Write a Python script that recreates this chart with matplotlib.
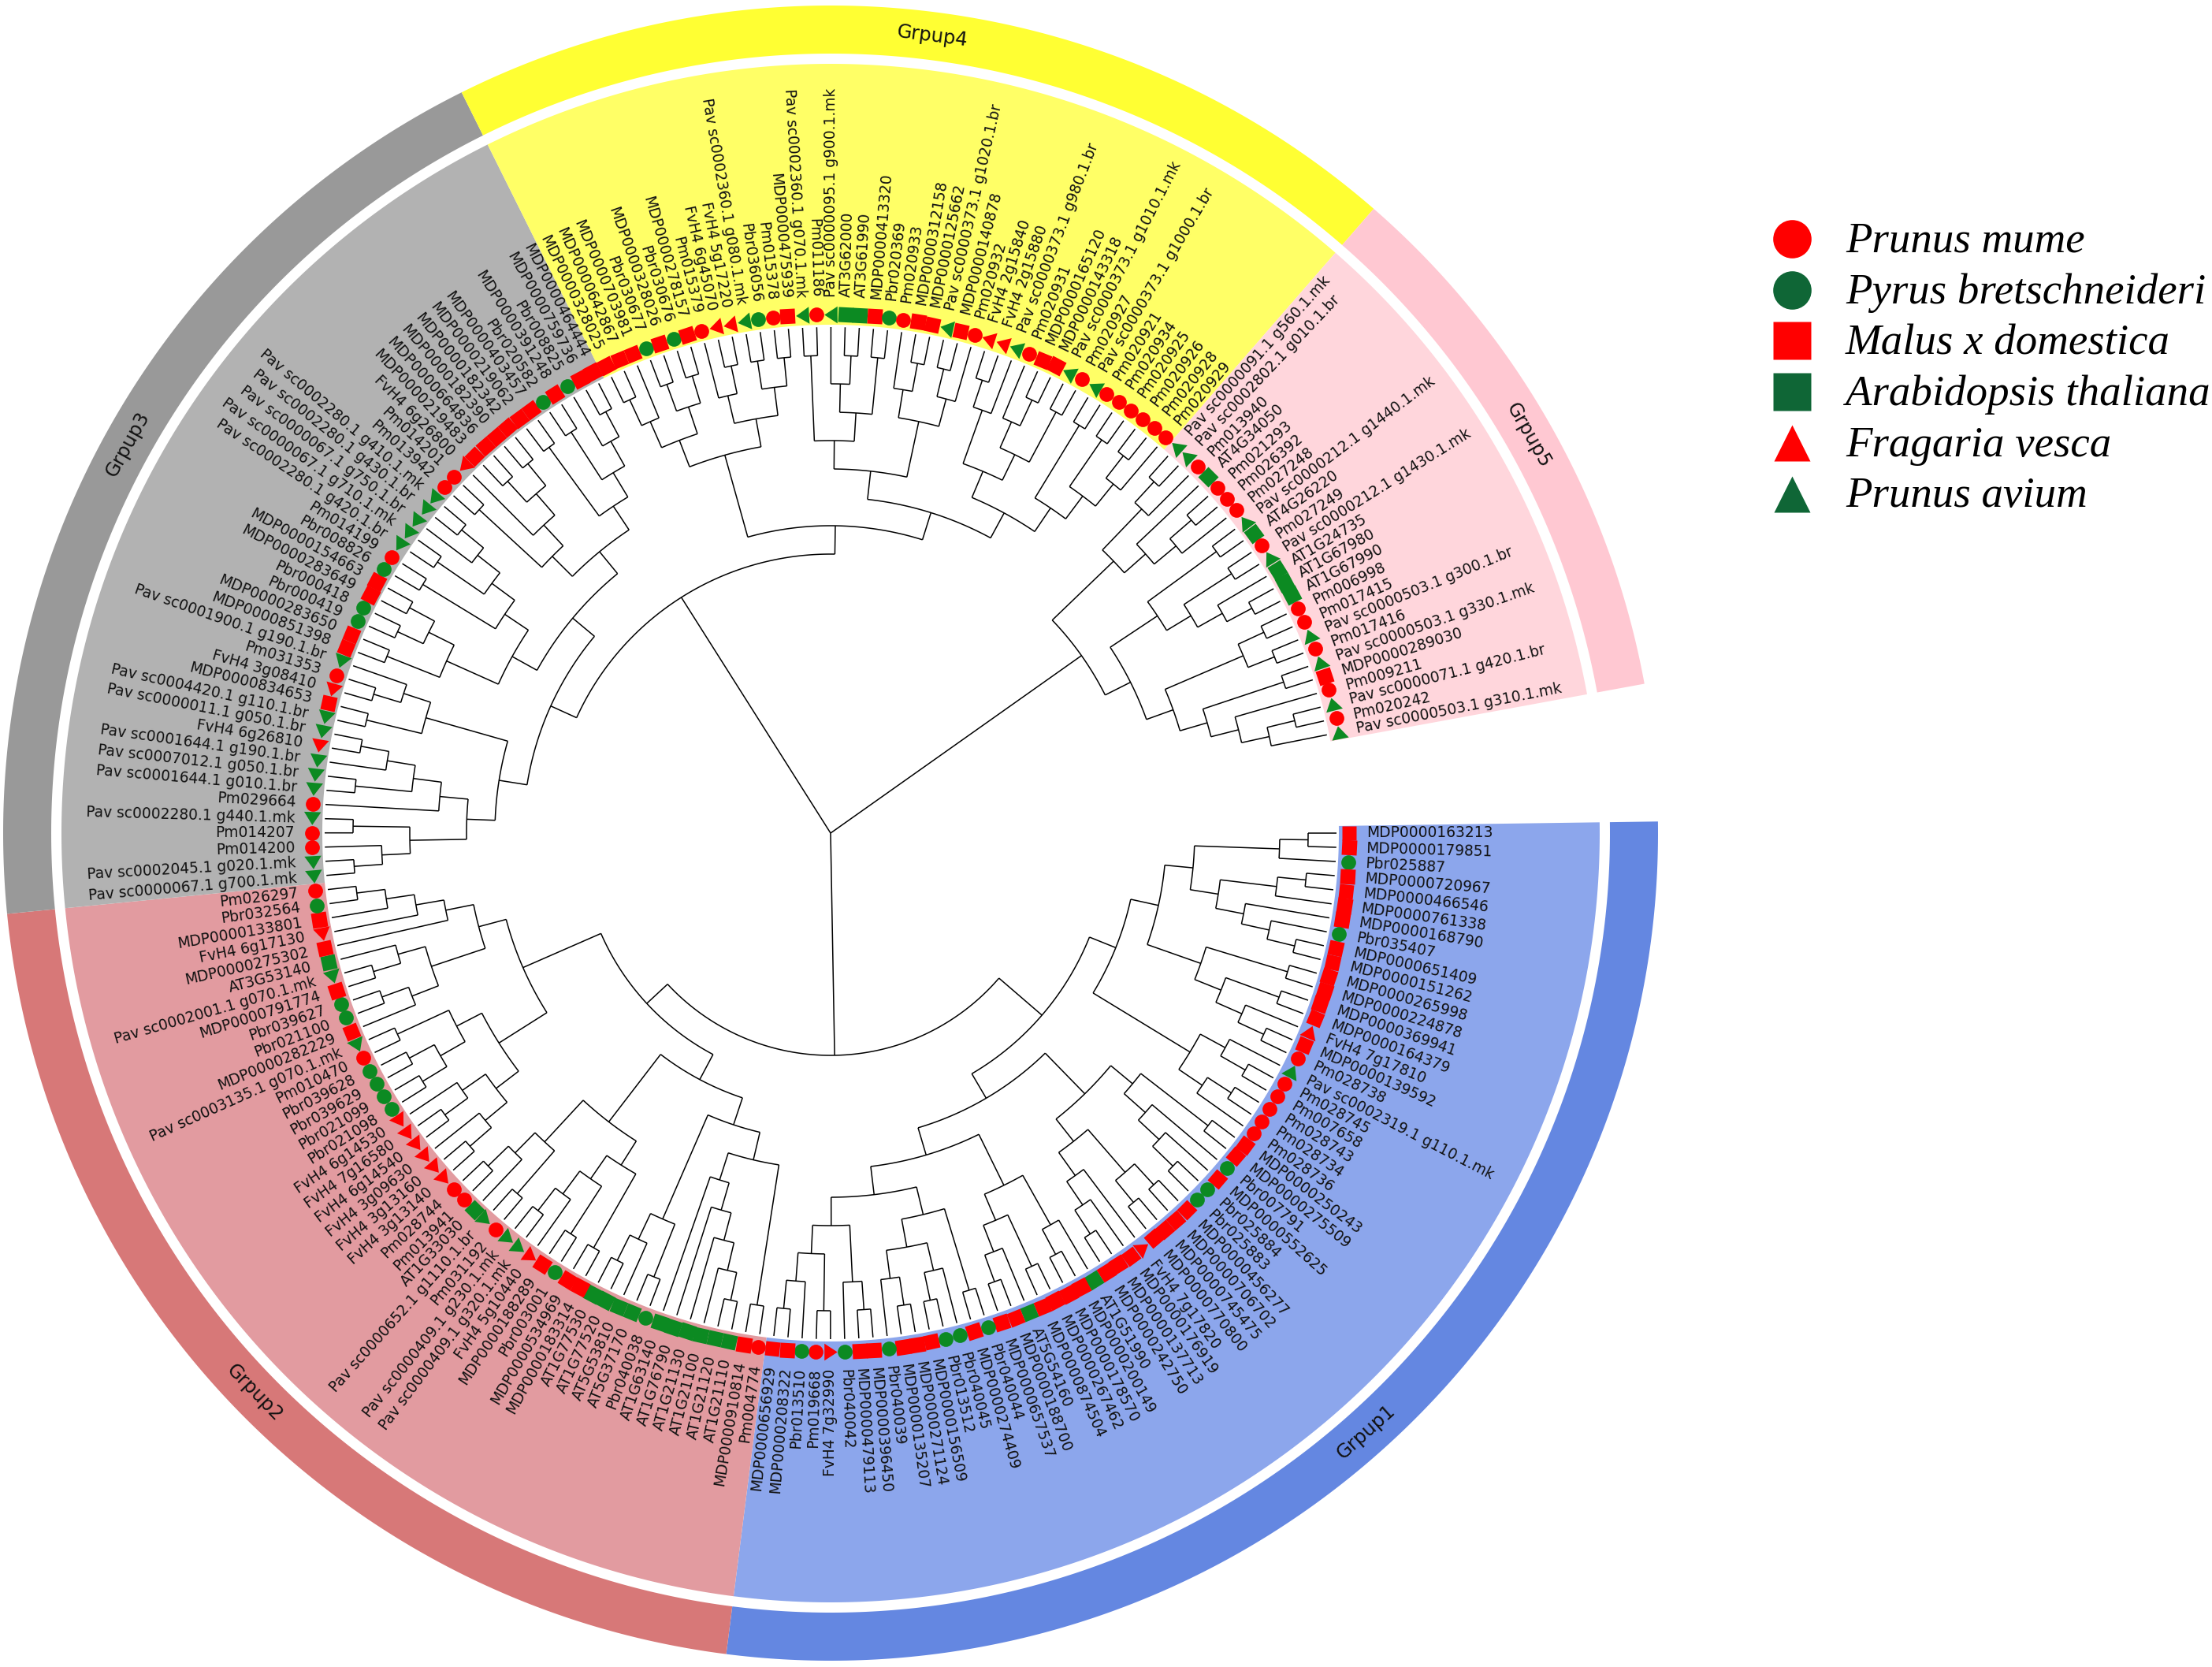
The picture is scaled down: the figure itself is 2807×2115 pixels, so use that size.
import numpy as np
import matplotlib
matplotlib.use("Agg")
import matplotlib.pyplot as plt
from matplotlib.markers import MarkerStyle
from matplotlib.transforms import Affine2D
from matplotlib.collections import LineCollection
from matplotlib.path import Path

# ---------------- data ----------------
group_names = ["Grpup1", "Grpup2", "Grpup3", "Grpup4", "Grpup5"]

group1_leaves = [
    "MDP0000163213", "MDP0000179851", "Pbr025887", "MDP0000720967", "MDP0000466546",
    "MDP0000761338", "MDP0000168790", "Pbr035407", "MDP0000651409", "MDP0000151262",
    "MDP0000265998", "MDP0000224878", "MDP0000369941", "MDP0000164379", "FvH4 7g17810",
    "MDP0000139592", "Pm028738", "Pav sc0002319.1 g110.1.mk", "Pm028745", "Pm007658",
    "Pm028743", "Pm028734", "Pm028736", "MDP0000250243", "MDP0000275509",
    "Pbr007791", "MDP0000552625", "Pbr025884", "Pbr025883", "MDP0000456277",
    "MDP0000706702", "MDP0000745475", "MDP0000770800", "FvH4 7g17820", "MDP0000176919",
    "MDP0000137713", "MDP0000242750", "AT1G51990", "MDP0000200149", "MDP0000178570",
    "MDP0000267462", "MDP0000874504", "AT5G54160", "MDP0000188700", "MDP0000657537",
    "Pbr040044", "MDP0000274409", "Pbr040045", "Pbr013512", "MDP0000156509",
    "MDP0000271124", "MDP0000135207", "Pbr040039", "MDP0000396450", "MDP0000479113",
    "Pbr040042", "FvH4 7g32990", "Pm019668", "Pbr013510", "MDP0000208322",
    "MDP0000656929"]
group2_leaves = [
    "Pm004774", "MDP0000910814", "AT1G21110", "AT1G21120", "AT1G21100",
    "AT1G21130", "AT1G76790", "AT1G63140", "Pbr040038", "AT5G37170",
    "AT5G53810", "AT1G77520", "AT1G77530", "MDP0000183314", "MDP0000534969",
    "Pbr003001", "MDP0000188289", "FvH4 5g10440", "Pav sc0000409.1 g320.1.mk", "Pav sc0000409.1 g230.1.mk",
    "Pm031192", "Pav sc0000652.1 g1110.1.br", "AT1G33030", "Pm013941", "Pm028744",
    "FvH4 3g13140", "FvH4 3g13160", "FvH4 3g09630", "FvH4 6g14540", "FvH4 7g16580",
    "FvH4 6g14530", "Pbr021098", "Pbr021099", "Pbr039629", "Pbr039628",
    "Pm010470", "Pav sc0003135.1 g070.1.mk", "MDP0000282229", "Pbr021100", "Pbr039627",
    "MDP0000791774", "Pav sc0002001.1 g070.1.mk", "AT3G53140", "MDP0000275302", "FvH4 6g17130",
    "MDP0000133801", "Pbr032564", "Pm026297"]
group3_leaves = [
    "Pav sc0000067.1 g700.1.mk", "Pav sc0002045.1 g020.1.mk", "Pm014200", "Pm014207", "Pav sc0002280.1 g440.1.mk",
    "Pm029664", "Pav sc0001644.1 g010.1.br", "Pav sc0007012.1 g050.1.br", "Pav sc0001644.1 g190.1.br", "FvH4 6g26810",
    "Pav sc0000011.1 g050.1.br", "Pav sc0004420.1 g110.1.br", "MDP0000834653", "FvH4 3g08410", "Pm031353",
    "Pav sc0001900.1 g190.1.br", "MDP0000851398", "MDP0000283650", "Pbr000419", "Pbr000418",
    "MDP0000283649", "MDP0000154663", "Pbr008826", "Pm014199", "Pav sc0002280.1 g420.1.br",
    "Pav sc0000067.1 g710.1.mk", "Pav sc0000067.1 g750.1.br", "Pav sc0002280.1 g430.1.br", "Pav sc0002280.1 g410.1.mk", "Pm013942",
    "Pm014201", "FvH4 6g26800", "MDP0000219483", "MDP0000664836", "MDP0000182390",
    "MDP0000182342", "MDP0000219062", "MDP0000403457", "Pbr020582", "MDP0000391248",
    "Pbr008825", "MDP0000759736", "MDP0000464444"]
group4_leaves = [
    "MDP0000328025", "MDP0000642867", "MDP0000703981", "Pbr030677", "MDP0000328026",
    "Pbr030676", "MDP0000278157", "Pm015379", "FvH4 6g45070", "FvH4 5g17220",
    "Pav sc0002360.1 g080.1.mk", "Pbr036056", "Pm015378", "MDP0000475939", "Pav sc0002360.1 g070.1.mk",
    "Pm011186", "Pav sc0000095.1 g900.1.mk", "AT3G62000", "AT3G61990", "MDP0000413320",
    "Pbr020369", "Pm020933", "MDP0000312158", "MDP0000125662", "Pav sc0000373.1 g1020.1.br",
    "MDP0000140878", "Pm020932", "FvH4 2g15840", "FvH4 2g15880", "Pav sc0000373.1 g980.1.br",
    "Pm020931", "MDP0000165120", "MDP0000143318", "Pav sc0000373.1 g1010.1.mk", "Pm020927",
    "Pav sc0000373.1 g1000.1.br", "Pm020921", "Pm020934", "Pm020925", "Pm020926",
    "Pm020928", "Pm020929"]
group5_leaves = [
    "Pav sc0000091.1 g560.1.mk", "Pav sc0002802.1 g010.1.br", "Pm013940", "AT4G34050", "Pm021293",
    "Pm026392", "Pm027248", "Pav sc0000212.1 g1440.1.mk", "AT4G26220", "Pm027249",
    "Pav sc0000212.1 g1430.1.mk", "AT1G24735", "AT1G67980", "AT1G67990", "Pm006998",
    "Pm017415", "Pav sc0000503.1 g300.1.br", "Pm017416", "Pav sc0000503.1 g330.1.mk", "MDP0000289030",
    "Pm009211", "Pav sc0000071.1 g420.1.br", "Pm020242", "Pav sc0000503.1 g310.1.mk"]
group_leaves = [group1_leaves, group2_leaves, group3_leaves, group4_leaves, group5_leaves]

species_names = ["Prunus mume", "Pyrus bretschneideri", "Malus x domestica",
                 "Arabidopsis thaliana", "Fragaria vesca", "Prunus avium"]
species_prefix = ["Pm", "Pbr", "MDP", "AT", "FvH4", "Pav"]

# tree topology per group (local leaf indices, in leaf order)
g1_parts = dict(
    A1="(((0,1),2),(((3,4),5),(6,(7,(8,9)))))",
    A2="((10,11),((12,13),(14,(15,16))))",
    A3="((17,(18,19)),((20,21),22))",
    A4="((23,24),(25,(26,(27,28))))",
    A5="(((29,30),(31,32)),(33,(34,(35,36))))",
    A6="((37,(38,39)),((40,41),(42,(43,44))))",
    A7="((45,46),((47,(48,49)),((50,51),52)))",
    A8="(((53,54),55),((56,57),(58,(59,60))))")
g1_topo = "((({A1},{A2}),{A3}),(({A4},{A5}),({A6},({A7},{A8}))))".format(**g1_parts)
g2_parts = dict(
    B1="((0,1),(((((2,3),4),5),6),7))",
    B2="((8,9),(10,(11,12)))",
    B3="((13,14),((15,16),(17,(18,19))))",
    B4="((20,21),(22,(23,24)))",
    B5="(((25,26),27),((28,29),30))",
    B6="(((31,32),(33,34)),(35,36))",
    B7="((37,(38,39)),((40,41),42))",
    B8="(43,(44,(45,(46,47))))")
g2_topo = "((({B1},{B2}),({B3},{B4})),(({B5},{B6}),({B7},{B8})))".format(**g2_parts)
g3_parts = dict(
    C1="(((0,1),2),(3,4))",
    C2="(5,((6,7),(8,(9,10))))",
    C3="((11,12),((13,14),15))",
    C4="((16,17),((18,19),(20,21)))",
    C5="((22,23),((24,25),(26,(27,28))))",
    C6="((29,30),(31,((32,33),(34,35))))",
    C7="((36,37),((38,39),(40,(41,42))))")
g3_topo = "((({C1},{C2}),{C3}),(({C4},{C5}),({C6},{C7})))".format(**g3_parts)
g4_parts = dict(
    D1="(((0,1),2),((3,4),(5,6)))",
    D2="((7,(8,9)),((10,11),(12,13)))",
    D3="((14,15),((16,(17,18)),(19,20)))",
    D4="((21,(22,23)),((24,25),26))",
    D5="(((27,28),29),((30,(31,32)),(33,34)))",
    D6="((35,36),((37,38),((39,40),41)))")
g4_topo = "(({D1},{D2}),(({D3},{D4}),({D5},{D6})))".format(**g4_parts)
g5_parts = dict(
    E1="(((0,1),2),(3,((4,5),6)))",
    E2="((7,8),((9,10),(11,(12,13))))",
    E3="(((14,15),(16,17)),((18,19),(20,((21,22),23))))")
g5_topo = "({E1},({E2},{E3}))".format(**g5_parts)
group_topos = [g1_topo, g2_topo, g3_topo, g4_topo, g5_topo]

# ---------------- style / geometry ----------------
W, H = 2807, 2115
CX, CY = 1054, 1057
R_TIP, R_MARK, R_LABEL = 642, 658, 680
R_FILL_IN, R_FILL_OUT = 645, 976
R_RING_IN, R_RING_OUT = 989, 1050
THETA0, THETA_END = 0.0, 11.2
NODE_STEP = 36
RED, GREEN = "#ff0000", "#0c8a22"
species_color = [RED, GREEN, RED, GREEN, RED, GREEN]
species_marker = ["o", "o", "s", "s", "^", "^"]
fill_colors = ["#8ca6ec", "#e29ba0", "#b2b2b2", "#ffff66", "#ffd6dc"]
ring_colors = ["#6487e1", "#d77878", "#999999", "#ffff33", "#ffc8d2"]
TRI = Path([(-0.65, -0.5), (0.65, -0.5), (0.0, 0.5), (-0.65, -0.5)],
           [Path.MOVETO, Path.LINETO, Path.LINETO, Path.CLOSEPOLY])


def parse(s, offset):
    s = s.replace(" ", "")
    pos = [0]

    def node():
        if s[pos[0]] == "(":
            pos[0] += 1
            ch = [node()]
            while s[pos[0]] == ",":
                pos[0] += 1
                ch.append(node())
            pos[0] += 1
            return ch
        j = pos[0]
        while s[j].isdigit():
            j += 1
        v = int(s[pos[0]:j]) + int(offset)
        pos[0] = j
        return v
    return node()


leaves = [n for g in group_leaves for n in g]
N = len(leaves)
starts = [0]
for g in group_leaves:
    starts.append(starts[-1] + len(g))
subtrees = [parse(t, starts[i]) for i, t in enumerate(group_topos)]
root = [[subtrees[0], subtrees[1]], [subtrees[2], subtrees[3]], subtrees[4]]


def flat(n):
    return [n] if isinstance(n, int) else [x for c in n for x in flat(c)]


if flat(root) != list(range(N)):
    print("WARNING: topology order mismatch")

STEP = (360.0 - (THETA_END - THETA0)) / (N - 1)
theta = THETA0 - STEP * np.arange(N)  # degrees, clockwise


def height(n):
    return 0 if isinstance(n, int) else 1 + max(height(c) for c in n)


def ang(n):
    if isinstance(n, int):
        return float(theta[n])
    return 0.5 * (ang(n[0]) + ang(n[-1]))


def xy(r, a_deg):
    a = np.radians(a_deg)
    return CX + r * np.cos(a), CY - r * np.sin(a)


segs = []


def draw(n, is_root=False):
    if isinstance(n, int):
        return
    rn = 0.0 if is_root else R_TIP - height(n) * NODE_STEP
    a_first, a_last = ang(n[0]), ang(n[-1])
    if not is_root:
        t = np.linspace(a_first, a_last, max(2, int(abs(a_last - a_first) * 3) + 2))
        x, y = xy(rn, t)
        segs.append(np.column_stack([x, y]))
    for c in n:
        rc = R_TIP if isinstance(c, int) else R_TIP - height(c) * NODE_STEP
        ac = ang(c)
        x0, y0 = xy(rn, ac)
        x1, y1 = xy(rc, ac)
        segs.append(np.array([[x0, y0], [x1, y1]]))
        draw(c)


draw(root, True)

# ---------------- figure ----------------
fig = plt.figure(figsize=(W / 100, H / 100), dpi=100)
ax = fig.add_axes([0, 0, 1, 1])
ax.set_xlim(0, W)
ax.set_ylim(H, 0)
ax.axis("off")


def sector(r0, r1, a0, a1, color):
    t = np.linspace(a0, a1, 200)
    xo, yo = xy(r1, t)
    xi, yi = xy(r0, t[::-1])
    ax.fill(np.concatenate([xo, xi]), np.concatenate([yo, yi]), color=color, lw=0, zorder=1)


for g in range(len(group_leaves)):
    s, e = starts[g], starts[g + 1] - 1
    a0 = theta[s] + STEP / 2
    a1 = theta[e] - STEP / 2
    sector(R_FILL_IN, R_FILL_OUT, a0, a1, fill_colors[g])
    sector(R_RING_IN, R_RING_OUT, a0, a1, ring_colors[g])
    am = 0.5 * (a0 + a1)
    an = am % 360
    rot = an - 90 if 0 < an < 180 else an + 90
    tx, ty = xy(0.5 * (R_RING_IN + R_RING_OUT), am)
    ax.text(tx, ty, group_names[g], rotation=rot, rotation_mode="anchor",
            ha="center", va="center", fontsize=17.5, color="#111111", zorder=5)

ax.add_collection(LineCollection(segs, colors="black", linewidths=1.1, zorder=3))

for i, name in enumerate(leaves):
    sp = next(k for k, p in enumerate(species_prefix) if name.startswith(p))
    a = float(theta[i])
    mx, my = xy(R_MARK, a)
    m = species_marker[sp]
    if m == "o":
        ms = 13.5
        style = MarkerStyle("o")
    elif m == "s":
        ms = 13.5
        style = MarkerStyle("s", transform=Affine2D().rotate_deg(a))
    else:
        ms = 15.5
        style = MarkerStyle(TRI, transform=Affine2D().rotate_deg(a))
    ax.plot([mx], [my], marker=style, ms=ms, color=species_color[sp],
            mec="none", ls="none", zorder=4)
    an = ((a + 180) % 360) - 180
    if -90 <= an <= 90:
        rot, ha = an, "left"
    else:
        rot, ha = an + 180, "right"
    lx, ly = xy(R_LABEL, a)
    ax.text(lx, ly, name, rotation=rot, rotation_mode="anchor", ha=ha, va="center",
            fontsize=13.4, color="#111111", zorder=5)

# legend
LX, LY0, LDY = 2274, 303, 64.7
legend_green = "#0f6636"
leg_colors = [RED, legend_green, RED, legend_green, RED, legend_green]
leg_sizes = [35, 35, 34, 34, 33, 33]
for k, sp_name in enumerate(species_names):
    y = LY0 + k * LDY
    ax.plot([LX], [y], marker=species_marker[k], ms=leg_sizes[k], color=leg_colors[k],
            mec="none", ls="none", zorder=4)
    ax.text(2342, y + 17, sp_name, fontsize=39.5, fontstyle="italic",
            family=["Liberation Serif", "DejaVu Serif"], ha="left", va="baseline",
            color="black", zorder=5)

fig.savefig("out.png", dpi=100)
